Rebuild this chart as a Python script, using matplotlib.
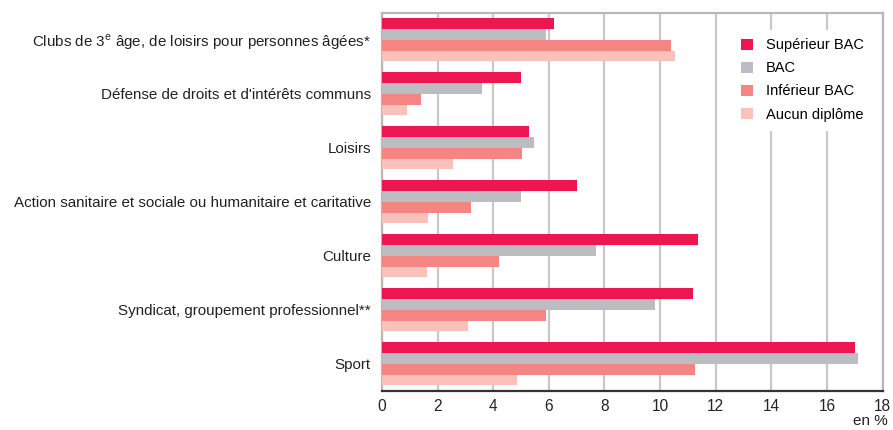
import matplotlib
matplotlib.use("Agg")
import matplotlib.pyplot as plt
import numpy as np
from matplotlib import font_manager

# --- DATA ---
categories = [
    "Clubs de 3$^\\mathregular{e}$ âge, de loisirs pour personnes âgées*",
    "Défense de droits et d'intérêts communs",
    "Loisirs",
    "Action sanitaire et sociale ou humanitaire et caritative",
    "Culture",
    "Syndicat, groupement professionnel**",
    "Sport",
]
series_names = ["Supérieur BAC", "BAC", "Inférieur BAC", "Aucun diplôme"]
superieur_bac = [6.2, 5.0, 5.3, 7.0, 11.35, 11.2, 17.0]
bac = [5.9, 3.6, 5.45, 5.0, 7.7, 9.8, 17.1]
inferieur_bac = [10.4, 1.4, 5.05, 3.2, 4.2, 5.9, 11.25]
aucun_diplome = [10.55, 0.9, 2.55, 1.65, 1.6, 3.1, 4.85]
xticks = [0, 2, 4, 6, 8, 10, 12, 14, 16, 18]

colors = ["#ED1650", "#BCBDC0", "#F48582", "#FAC0BA"]

# --- FONT ---
names = {f.name for f in font_manager.fontManager.ttflist}
family = "Liberation Sans Narrow" if "Liberation Sans Narrow" in names else "Liberation Sans"
plt.rcParams["font.family"] = [family, "DejaVu Sans"]
plt.rcParams["mathtext.fontset"] = "custom"
plt.rcParams["mathtext.rm"] = family

fig = plt.figure(figsize=(8.93, 4.30), dpi=100)
ax = fig.add_axes([0.4278, 0.091, 0.5605, 0.879])

all_vals = [superieur_bac, bac, inferieur_bac, aucun_diplome]
n = len(categories)
bar_h = 0.2
y = np.arange(n)
for i, (vals, name, c) in enumerate(zip(all_vals, series_names, colors)):
    ax.barh(y - 0.3 + i * bar_h, vals, height=bar_h, color=c, label=name, zorder=3)

ax.set_ylim(n - 0.5, -0.5)
ax.set_xlim(0, 18)
ax.set_yticks(y)
ax.set_yticklabels(categories, fontsize=10.9, color="#222222")
ax.set_xticks(xticks)
ax.set_xticklabels([str(t) for t in xticks], fontsize=11.2, color="#222222")
ax.tick_params(axis="y", length=0, pad=8)
ax.tick_params(axis="x", length=0, pad=6)

ax.grid(axis="x", color="#c8c8c8", linewidth=1.6, zorder=0)
for s in ["top", "right", "left"]:
    ax.spines[s].set_color("#b8b8b8")
    ax.spines[s].set_linewidth(1.6)
ax.spines["bottom"].set_color("#333333")
ax.spines["bottom"].set_linewidth(1.6)

leg = ax.legend(loc="upper right", bbox_to_anchor=(0.995, 0.975), frameon=True,
                fontsize=10.5, handlelength=0.8, handleheight=0.8,
                handletextpad=0.9, labelspacing=0.62, borderpad=0.6)
leg.get_frame().set_facecolor("white")
leg.get_frame().set_edgecolor("white")
leg.get_frame().set_alpha(1)
leg.set_zorder(5)

fig.text(0.975, 0.004, "en %", fontsize=11, ha="center", va="bottom", color="#222222")

fig.savefig("out.png", dpi=100)
